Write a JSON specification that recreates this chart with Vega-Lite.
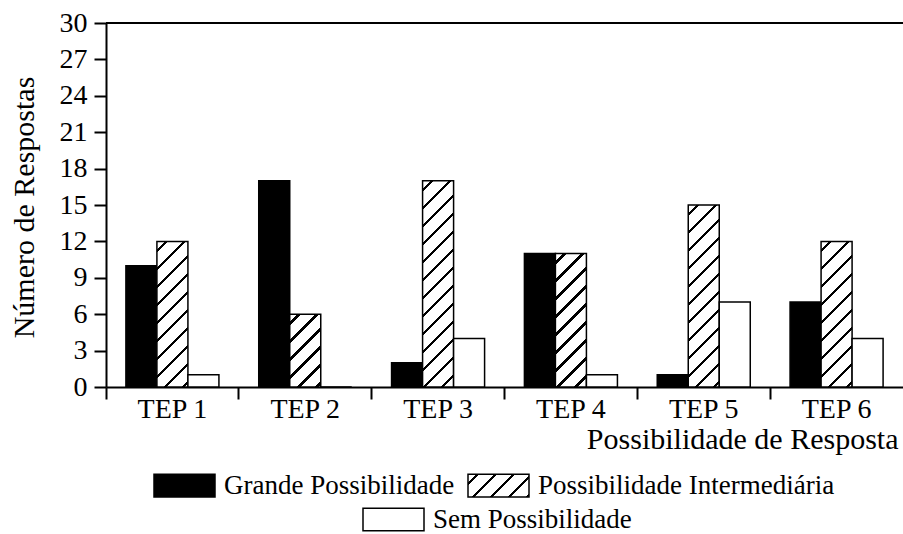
{
  "$schema": "https://vega.github.io/schema/vega-lite/v6.json",
  "width": 797,
  "height": 364,
  "autosize": "none",
  "padding": {"left": 106, "top": 23, "right": 0, "bottom": 147},
  "background": "white",
  "params": [
    {"name": "hatchStops", "value": [
      {"offset": 0, "color": "white"},
      {"offset": 0.020, "color": "white"}, {"offset": 0.020, "color": "black"}, {"offset": 0.028, "color": "black"}, {"offset": 0.028, "color": "white"},
      {"offset": 0.065, "color": "white"}, {"offset": 0.065, "color": "black"}, {"offset": 0.073, "color": "black"}, {"offset": 0.073, "color": "white"},
      {"offset": 0.110, "color": "white"}, {"offset": 0.110, "color": "black"}, {"offset": 0.118, "color": "black"}, {"offset": 0.118, "color": "white"},
      {"offset": 0.155, "color": "white"}, {"offset": 0.155, "color": "black"}, {"offset": 0.163, "color": "black"}, {"offset": 0.163, "color": "white"},
      {"offset": 0.200, "color": "white"}, {"offset": 0.200, "color": "black"}, {"offset": 0.208, "color": "black"}, {"offset": 0.208, "color": "white"},
      {"offset": 0.245, "color": "white"}, {"offset": 0.245, "color": "black"}, {"offset": 0.253, "color": "black"}, {"offset": 0.253, "color": "white"},
      {"offset": 0.290, "color": "white"}, {"offset": 0.290, "color": "black"}, {"offset": 0.298, "color": "black"}, {"offset": 0.298, "color": "white"},
      {"offset": 0.335, "color": "white"}, {"offset": 0.335, "color": "black"}, {"offset": 0.343, "color": "black"}, {"offset": 0.343, "color": "white"},
      {"offset": 0.380, "color": "white"}, {"offset": 0.380, "color": "black"}, {"offset": 0.388, "color": "black"}, {"offset": 0.388, "color": "white"},
      {"offset": 0.425, "color": "white"}, {"offset": 0.425, "color": "black"}, {"offset": 0.433, "color": "black"}, {"offset": 0.433, "color": "white"},
      {"offset": 0.470, "color": "white"}, {"offset": 0.470, "color": "black"}, {"offset": 0.478, "color": "black"}, {"offset": 0.478, "color": "white"},
      {"offset": 0.515, "color": "white"}, {"offset": 0.515, "color": "black"}, {"offset": 0.523, "color": "black"}, {"offset": 0.523, "color": "white"},
      {"offset": 0.560, "color": "white"}, {"offset": 0.560, "color": "black"}, {"offset": 0.568, "color": "black"}, {"offset": 0.568, "color": "white"},
      {"offset": 0.605, "color": "white"}, {"offset": 0.605, "color": "black"}, {"offset": 0.613, "color": "black"}, {"offset": 0.613, "color": "white"},
      {"offset": 0.650, "color": "white"}, {"offset": 0.650, "color": "black"}, {"offset": 0.658, "color": "black"}, {"offset": 0.658, "color": "white"},
      {"offset": 0.695, "color": "white"}, {"offset": 0.695, "color": "black"}, {"offset": 0.703, "color": "black"}, {"offset": 0.703, "color": "white"},
      {"offset": 0.740, "color": "white"}, {"offset": 0.740, "color": "black"}, {"offset": 0.748, "color": "black"}, {"offset": 0.748, "color": "white"},
      {"offset": 0.785, "color": "white"}, {"offset": 0.785, "color": "black"}, {"offset": 0.793, "color": "black"}, {"offset": 0.793, "color": "white"},
      {"offset": 0.830, "color": "white"}, {"offset": 0.830, "color": "black"}, {"offset": 0.838, "color": "black"}, {"offset": 0.838, "color": "white"},
      {"offset": 0.875, "color": "white"}, {"offset": 0.875, "color": "black"}, {"offset": 0.883, "color": "black"}, {"offset": 0.883, "color": "white"},
      {"offset": 0.920, "color": "white"}, {"offset": 0.920, "color": "black"}, {"offset": 0.928, "color": "black"}, {"offset": 0.928, "color": "white"},
      {"offset": 0.965, "color": "white"}, {"offset": 0.965, "color": "black"}, {"offset": 0.973, "color": "black"}, {"offset": 0.973, "color": "white"},
      {"offset": 1, "color": "white"}
    ]}
  ],
  "layer": [
    {
      "data": {"values": [
        {"tep": "TEP 1", "serie": "Grande Possibilidade", "n": 10},
        {"tep": "TEP 1", "serie": "Possibilidade Intermediária", "n": 12},
        {"tep": "TEP 1", "serie": "Sem Possibilidade", "n": 1},
        {"tep": "TEP 2", "serie": "Grande Possibilidade", "n": 17},
        {"tep": "TEP 2", "serie": "Possibilidade Intermediária", "n": 6},
        {"tep": "TEP 2", "serie": "Sem Possibilidade", "n": 0},
        {"tep": "TEP 3", "serie": "Grande Possibilidade", "n": 2},
        {"tep": "TEP 3", "serie": "Possibilidade Intermediária", "n": 17},
        {"tep": "TEP 3", "serie": "Sem Possibilidade", "n": 4},
        {"tep": "TEP 4", "serie": "Grande Possibilidade", "n": 11},
        {"tep": "TEP 4", "serie": "Possibilidade Intermediária", "n": 11},
        {"tep": "TEP 4", "serie": "Sem Possibilidade", "n": 1},
        {"tep": "TEP 5", "serie": "Grande Possibilidade", "n": 1},
        {"tep": "TEP 5", "serie": "Possibilidade Intermediária", "n": 15},
        {"tep": "TEP 5", "serie": "Sem Possibilidade", "n": 7},
        {"tep": "TEP 6", "serie": "Grande Possibilidade", "n": 7},
        {"tep": "TEP 6", "serie": "Possibilidade Intermediária", "n": 12},
        {"tep": "TEP 6", "serie": "Sem Possibilidade", "n": 4}
      ]},
      "encoding": {
        "x": {
          "field": "tep", "type": "nominal",
          "scale": {"paddingInner": 0, "paddingOuter": 0},
          "axis": {
            "title": "Possibilidade de Resposta",
            "bandPosition": 0,
            "labelAngle": 0,
            "tickSize": 12,
            "labelPadding": -4,
            "labelFontSize": 28,
            "titleFontSize": 30,
            "titleX": 792,
            "titleY": 61,
            "titleAlign": "right",
            "titleBaseline": "alphabetic",
            "titleAnchor": null
          }
        },
        "xOffset": {
          "field": "serie", "type": "nominal",
          "scale": {"domain": ["Grande Possibilidade", "Possibilidade Intermediária", "Sem Possibilidade"], "paddingInner": 0, "paddingOuter": 0.642}
        },
        "y": {
          "field": "n", "type": "quantitative",
          "scale": {"domain": [0, 30], "nice": false},
          "axis": {
            "title": "Número de Respostas",
            "values": [0, 3, 6, 9, 12, 15, 18, 21, 24, 27, 30],
            "labelOverlap": false,
            "tickSize": 12,
            "labelPadding": 7,
            "labelFontSize": 28,
            "titleFontSize": 30,
            "titleAngle": -90,
            "titleX": -73,
            "titleY": 184,
            "titleAlign": "center",
            "titleBaseline": "alphabetic"
          }
        }
      },
      "layer": [
        {
          "transform": [{"filter": "datum.serie !== 'Sem Possibilidade'"}],
          "mark": {"type": "bar", "stroke": "black", "strokeWidth": 1.5},
          "encoding": {
            "fill": {
              "field": "serie", "type": "nominal",
              "condition": {
                "test": "datum.serie === 'Possibilidade Intermediária'",
                "value": {"expr": "{gradient: 'linear', x1: 0, y1: 0, x2: bandwidth('xOffset') * 400 / (pow(bandwidth('xOffset'), 2) + pow(scale('y', 0) - scale('y', datum.n), 2)), y2: (scale('y', 0) - scale('y', datum.n)) * 400 / (pow(bandwidth('xOffset'), 2) + pow(scale('y', 0) - scale('y', datum.n), 2)), stops: hatchStops}"}
              },
              "scale": {
                "domain": ["Grande Possibilidade", "Possibilidade Intermediária"],
                "range": [
                  "black",
                  {"expr": "{gradient: 'linear', x1: 0, y1: 0, x2: 5.766, y2: 2.136, stops: hatchStops}"}
                ]
              },
              "legend": {
                "title": null,
                "orient": "none",
                "legendX": 47,
                "legendY": 431,
                "direction": "horizontal",
                "padding": 0,
                "symbolType": "M-1,-0.37H1V0.37H-1Z",
                "symbolSize": 3721,
                "symbolStrokeColor": "black",
                "symbolStrokeWidth": 1.5,
                "symbolOpacity": 1,
                "labelFont": "Liberation Serif",
                "labelFontSize": 27,
                "labelColor": "black",
                "labelOffset": 8,
                "labelLimit": 0,
                "columnPadding": 10
              }
            }
          }
        },
        {
          "transform": [{"filter": "datum.serie === 'Sem Possibilidade'"}],
          "mark": {"type": "bar", "stroke": "black", "strokeWidth": 1.5},
          "encoding": {
            "fill": {
              "field": "serie", "type": "nominal",
              "scale": {"domain": ["Sem Possibilidade"], "range": ["white"]},
              "legend": {
                "title": null,
                "orient": "none",
                "legendX": 256,
                "legendY": 465,
                "direction": "horizontal",
                "padding": 0,
                "symbolType": "M-1,-0.37H1V0.37H-1Z",
                "symbolSize": 3721,
                "symbolStrokeColor": "black",
                "symbolStrokeWidth": 1.5,
                "symbolOpacity": 1,
                "labelFont": "Liberation Serif",
                "labelFontSize": 27,
                "labelColor": "black",
                "labelOffset": 8,
                "labelLimit": 0
              }
            }
          }
        }
      ],
      "resolve": {"scale": {"fill": "independent"}, "legend": {"fill": "independent"}}
    },
    {
      "data": {"values": [{"top": 30}]},
      "mark": {"type": "rule", "color": "black", "strokeWidth": 2},
      "encoding": {
        "y": {
          "datum": 30,
          "axis": {
            "title": "Número de Respostas",
            "values": [0, 3, 6, 9, 12, 15, 18, 21, 24, 27, 30],
            "labelOverlap": false,
            "tickSize": 12,
            "labelPadding": 7,
            "labelFontSize": 28,
            "titleFontSize": 30,
            "titleAngle": -90,
            "titleX": -73,
            "titleY": 184,
            "titleAlign": "center",
            "titleBaseline": "alphabetic"
          }
        }
      }
    }
  ],
  "config": {
    "font": "Liberation Serif",
    "view": {"stroke": null},
    "legend": {"labelFont": "Liberation Serif"},
    "axisY": {"labelOverlap": false},
    "axis": {
      "grid": false,
      "domainColor": "black",
      "domainWidth": 2,
      "tickColor": "black",
      "tickWidth": 2,
      "labelColor": "black",
      "titleColor": "black",
      "titleFontWeight": "normal"
    }
  }
}
